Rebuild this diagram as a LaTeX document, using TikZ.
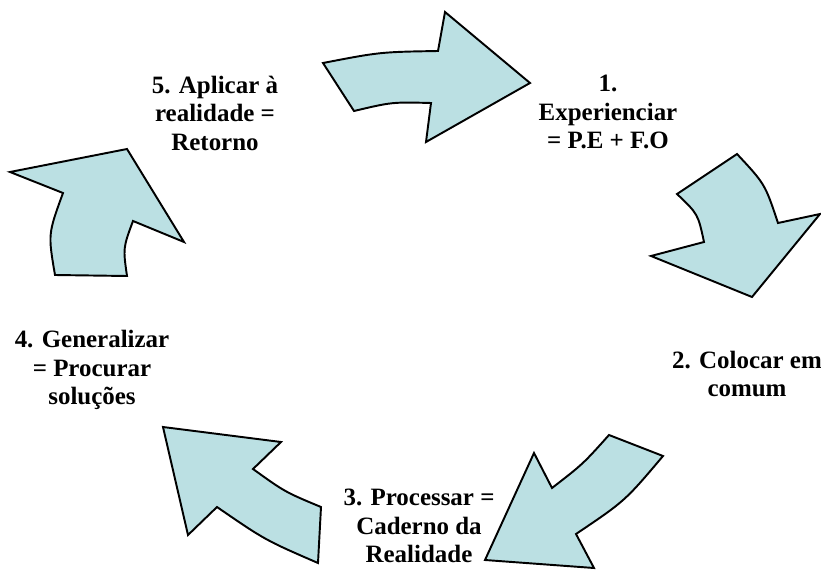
\documentclass[tikz,border=0pt]{standalone}
\usepackage{fontspec}
\setmainfont{Liberation Serif}
\usetikzlibrary{positioning}
\definecolor{arrowfill}{RGB}{187,224,227}
\tikzset{
  cyclearrow/.style={draw=black,line width=1.1pt,fill=arrowfill,line join=miter},
  phase/.style={align=center,inner sep=0pt,font=\fontsize{14.2}{16.2}\selectfont\bfseries},
}
\begin{document}
\begin{tikzpicture}[x=0.02cm,y=-0.02cm]
	\useasboundingbox (0,0) rectangle (821,574);
	% curved arrows of the cycle
	\filldraw[cyclearrow] (323,63) .. controls (380,52) .. (438,51) -- (445,12) -- (530,83) -- (426,142) -- (431,103) .. controls (392,102) .. (354,111) -- cycle;
	\filldraw[cyclearrow] (677,194) -- (737,154) .. controls (765,184) .. (778,223) -- (820,214) -- (752,297) -- (651,256) -- (704,242) .. controls (698,214) .. cycle;
	\filldraw[cyclearrow] (609,435) -- (663,456) .. controls (625,501) .. (576,534) -- (594,568) -- (485,560) -- (534,453) -- (552,488) .. controls (583,464) .. cycle;
	\filldraw[cyclearrow] (163,427) -- (281,442) -- (253,469) .. controls (285,492) .. (321,507) -- (318,563) .. controls (265,540) .. (217,507) -- (188,535) -- cycle;
	\filldraw[cyclearrow] (10,172) -- (127,149) -- (184,242) -- (133,221) .. controls (123,248) .. (127,276) -- (55,275) .. controls (48,234) .. (63,193) -- cycle;
	% phases
	\node[phase] (experience) at (608,112) {1.\\Experienciar\\= P.E + F.O};
	\node[phase] (share) at (747,374) {2. Colocar em\\comum};
	\node[phase] (process) at (419,526) {3. Processar =\\Caderno da\\Realidade};
	\node[phase] (generalize) at (92,370) {4. Generalizar\\= Procurar\\soluções};
	\node[phase] (apply) at (215,113) {5. Aplicar à\\realidade =\\Retorno};
\end{tikzpicture}
\end{document}
